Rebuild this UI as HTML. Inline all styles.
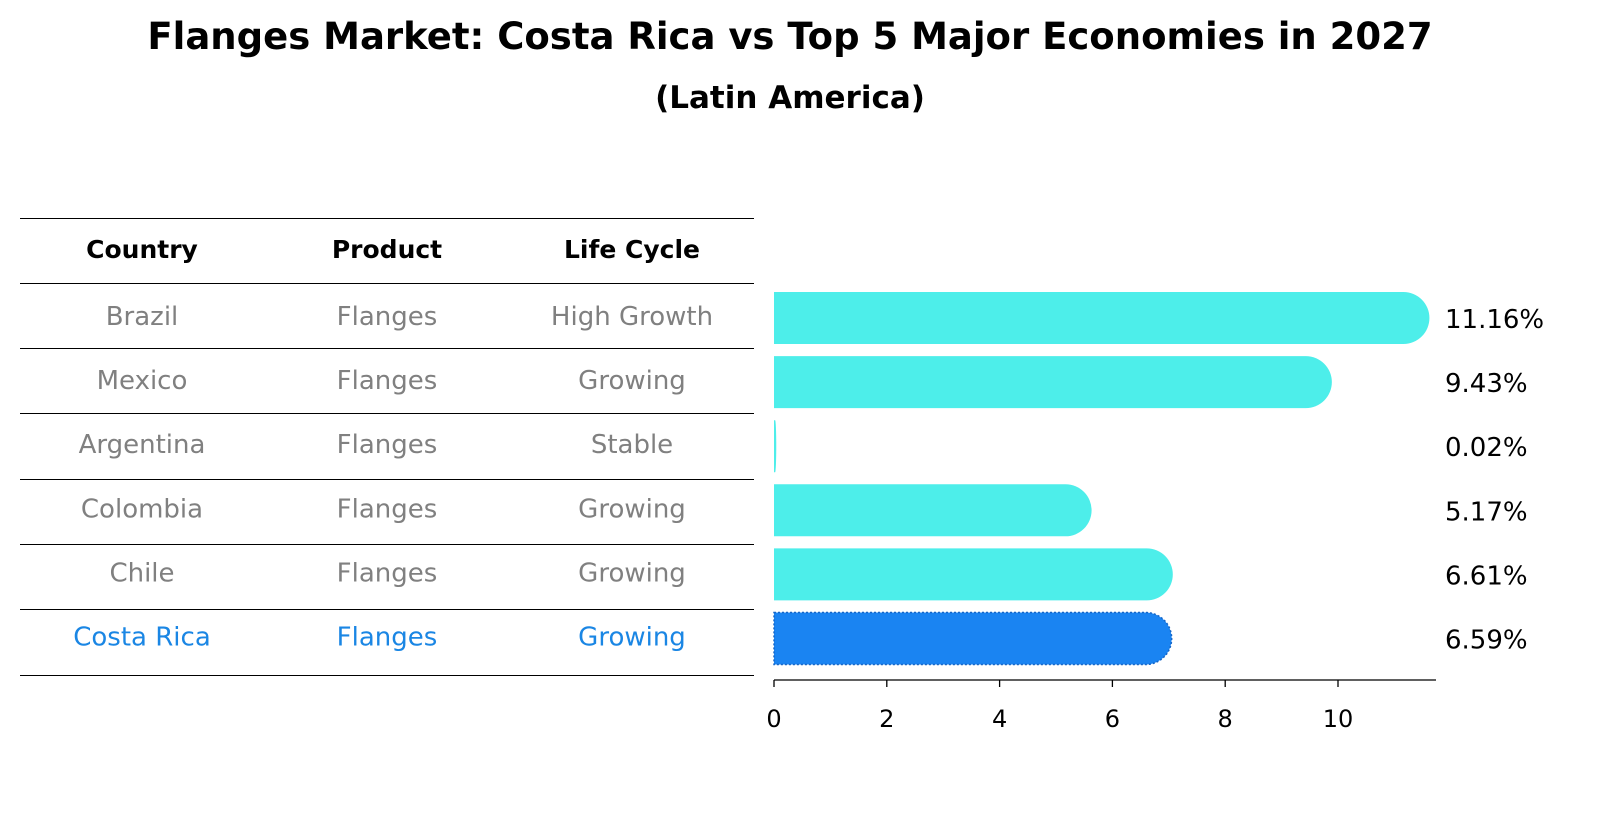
<!DOCTYPE html>
<html><head><meta charset="utf-8"><style>
body{margin:0;background:#fff;}
svg text{font-family:"DejaVu Sans","Liberation Sans",sans-serif;}
</style></head><body>
<svg id="chart" width="1604" height="823" xmlns="http://www.w3.org/2000/svg">
<text x="790" y="49" text-anchor="middle" font-size="37" font-weight="bold">Flanges Market: Costa Rica vs Top 5 Major Economies in 2027</text>
<text x="790" y="108" text-anchor="middle" font-size="31" font-weight="bold">(Latin America)</text>
<g id="table"></g>
<g id="bars"></g>
</svg>
<script>
const countries=["Brazil","Mexico","Argentina","Colombia","Chile","Costa Rica"];
const products=["Flanges","Flanges","Flanges","Flanges","Flanges","Flanges"];
const lifeCycles=["High Growth","Growing","Stable","Growing","Growing","Growing"];
const values=[11.16,9.43,0.02,5.17,6.61,6.59];
const valueLabels=["11.16%","9.43%","0.02%","5.17%","6.61%","6.59%"];
const ticks=[0,2,4,6,8,10];
const headers=["Country","Product","Life Cycle"];

const NS="http://www.w3.org/2000/svg";
function mk(tag,attrs,parent,text){const e=document.createElementNS(NS,tag);for(const k in attrs)e.setAttribute(k,attrs[k]);if(text!==undefined)e.textContent=text;parent.appendChild(e);return e;}
const x=v=>774+v*56.4;
const rowY=i=>318+i*64.1;
const tbl=document.getElementById('table');
const colX=[142,387,632];
const lineYs=[218,283,348,413,479,544,609,675];
lineYs.forEach((ly,i)=>{const l=mk('line',{x1:20,x2:754,y1:ly+0.5,y2:ly+0.5,stroke:'#000','stroke-width':1},tbl);

});
headers.forEach((h,j)=>{const t=mk('text',{x:colX[j],y:258,'text-anchor':'middle','font-size':25,'font-weight':'bold'},tbl,h);

});
countries.forEach((c,i)=>{const col=i===5?'#1a86e4':'#808080';[c,products[i],lifeCycles[i]].forEach((v,j)=>{
const t=mk('text',{x:colX[j],y:rowY(i)+7,'text-anchor':'middle','font-size':26,fill:col},tbl,v);

});});
const g=document.getElementById('bars');
const r0=26,h=52;
values.forEach((v,i)=>{const x0=x(0),w=x(v)-x0,r=Math.min(r0,w),cy=rowY(i),top=cy-h/2;
const d=`M${x0},${top} H${x0+w} A${r},${h/2} 0 0 1 ${x0+w},${top+h} H${x0} Z`;
const hl=i===5;
const p=mk('path',{d:d,fill:hl?'#1a84f2':'#4deeea',stroke:hl?'#1566c8':'none','stroke-width':hl?1.5:0,'stroke-dasharray':hl?'2,2':'none'},g);


const t=mk('text',{x:1445,y:cy+10,'font-size':26,fill:'#000'},g,valueLabels[i]);

});
const ax=mk('line',{x1:x(0),x2:1436,y1:680,y2:680,stroke:'#000','stroke-width':1.3},g);


ticks.forEach(tv=>{const tl=mk('line',{x1:x(tv),x2:x(tv),y1:680,y2:687,stroke:'#000','stroke-width':1.3},g);


const tt=mk('text',{x:x(tv),y:727,'text-anchor':'middle','font-size':24},g,String(tv));

});
</script>
</body></html>
